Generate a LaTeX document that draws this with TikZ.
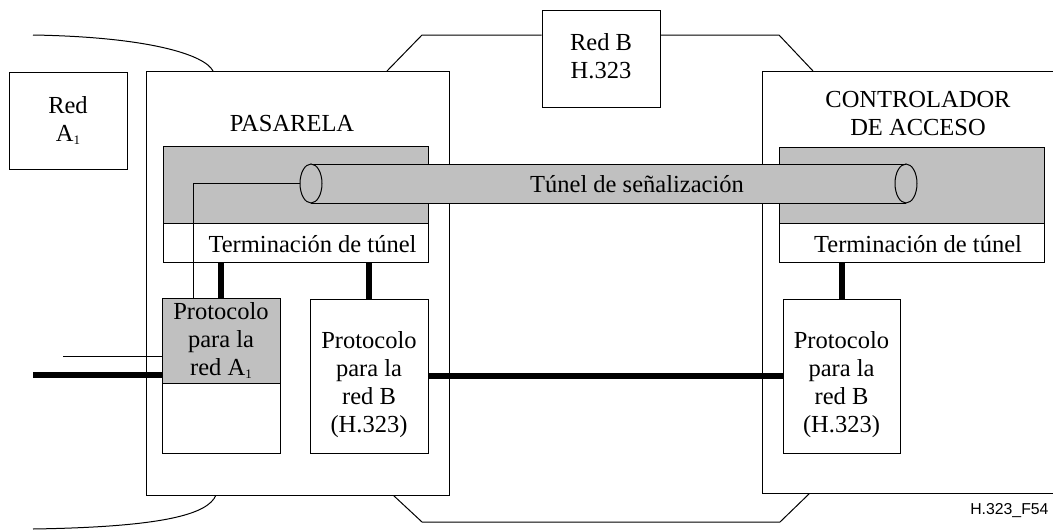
\documentclass[tikz,border=0pt]{standalone}
\usepackage{fontspec}
\setmainfont{Liberation Serif}
\newfontfamily\arialfont{Liberation Sans}
\usetikzlibrary{calc}
\definecolor{gris}{RGB}{192,192,192}
\newcommand{\subuno}{\raisebox{-0.3ex}{\fontsize{13}{13}\selectfont 1}}

\begin{document}
\begin{tikzpicture}[x=1pt,y=-1pt,line width=1pt,
  font=\fontsize{24.5}{28}\selectfont,
  caja/.style={draw, fill=white, inner sep=0pt, align=center},
  gruesa/.style={line width=6pt},
  texto/.style={inner sep=0pt, align=center}]
  \useasboundingbox (0,0) rectangle (1053,530);

  % red B y enlaces
  \node[caja, minimum width=118pt, minimum height=97pt] (redB) at (601,58.5) {};
  \node[texto] (tredB) at (601,56) {Red B\\H.323};
  \draw (387,71) -- (422,35) -- (redB.west |- 0,35);
  \draw (redB.east |- 0,35) -- (779,35) -- (813,71);
  \draw (393,495) -- (422,522) -- (780,522) -- (810,493);

  % red A1
  \node[caja, minimum width=118pt, minimum height=97pt] (redA) at (68,120.5) {Red\\A\subuno};
  \draw (33,35) .. controls (150,37) and (205,55) .. (213,71);
  \draw (216,495) .. controls (208,515) and (160,527) .. (33,529);

  % pasarela
  \node[caja, minimum width=303pt, minimum height=424pt] (pas) at (297.5,283) {};
  \node[texto] (tpas) at (292,124) {PASARELA};
  \node[caja, fill=gris, minimum width=265pt, minimum height=77pt] (fin1) at (295.5,184.5) {};
  \node[caja, minimum width=265pt, minimum height=39pt] (term1) at (295.5,242.5) {};
  \node[texto] (tterm1) at (312.5,244) {Terminación de túnel};
  \node[caja, fill=gris, minimum width=118pt, minimum height=85pt] (protA) at (221,340.5) {Protocolo\\para la\\red A\subuno};
  \node[caja, minimum width=118pt, minimum height=70pt] (protAb) at (221,418) {};
  \node[caja, minimum width=118pt, minimum height=154pt] (protB) at (369,376) {};
  \node[texto] (tprotB) at (369,385) {Protocolo\\para la\\red B\\(H.323)};

  % controlador de acceso
  \node[caja, minimum width=308pt, minimum height=422pt] (ctrl) at (916,282) {};
  \node[texto] (tctrl) at (918,113.5) {CONTROLADOR\\DE ACCESO};
  \node[caja, fill=gris, minimum width=265pt, minimum height=76pt] (fin2) at (911.5,185) {};
  \node[caja, minimum width=265pt, minimum height=39pt] (term2) at (911.5,242.5) {};
  \node[texto] (tterm2) at (918,244) {Terminación de túnel};
  \node[caja, minimum width=117pt, minimum height=154pt] (protC) at (841.5,376) {};
  \node[texto] (tprotC) at (841.5,385) {Protocolo\\para la\\red B\\(H.323)};

  % tunel
  \coordinate (tunI) at (311,183.5);
  \coordinate (tunD) at (906,183.5);
  \fill[gris] (311,164) rectangle (906,203);
  \draw (311,164) -- (906,164) (311,203) -- (906,203);
  \draw[fill=gris] (tunI) ellipse (11pt and 19.5pt);
  \draw (tunD) ellipse (11pt and 19.5pt);
  \node[texto] (ttun) at (637,184) {Túnel de señalización};
  \coordinate (bocaI) at ($(tunI)+(-11,0)$);
  \draw (bocaI) -| (193,0 |- protA.north);

  % conexiones
  \draw[gruesa] (protA.north) -- (protA.north |- term1.south);
  \draw[gruesa] (protB.north) -- (protB.north |- term1.south);
  \draw[gruesa] (protC.north) -- (protC.north |- term2.south);
  \coordinate (entA) at (33,375);
  \coordinate (entAf) at (63,356);
  \draw[gruesa] (entA) -- (entA -| protA.west);
  \draw (entAf) -- (entAf -| protA.west);
  \draw[gruesa] (protB.east) -- (protC.west);

  \node[anchor=east, inner sep=0pt, font=\arialfont\fontsize{15.8}{18}\selectfont] (fig) at (1049,511) {H.323\_F54};
\end{tikzpicture}
\end{document}
